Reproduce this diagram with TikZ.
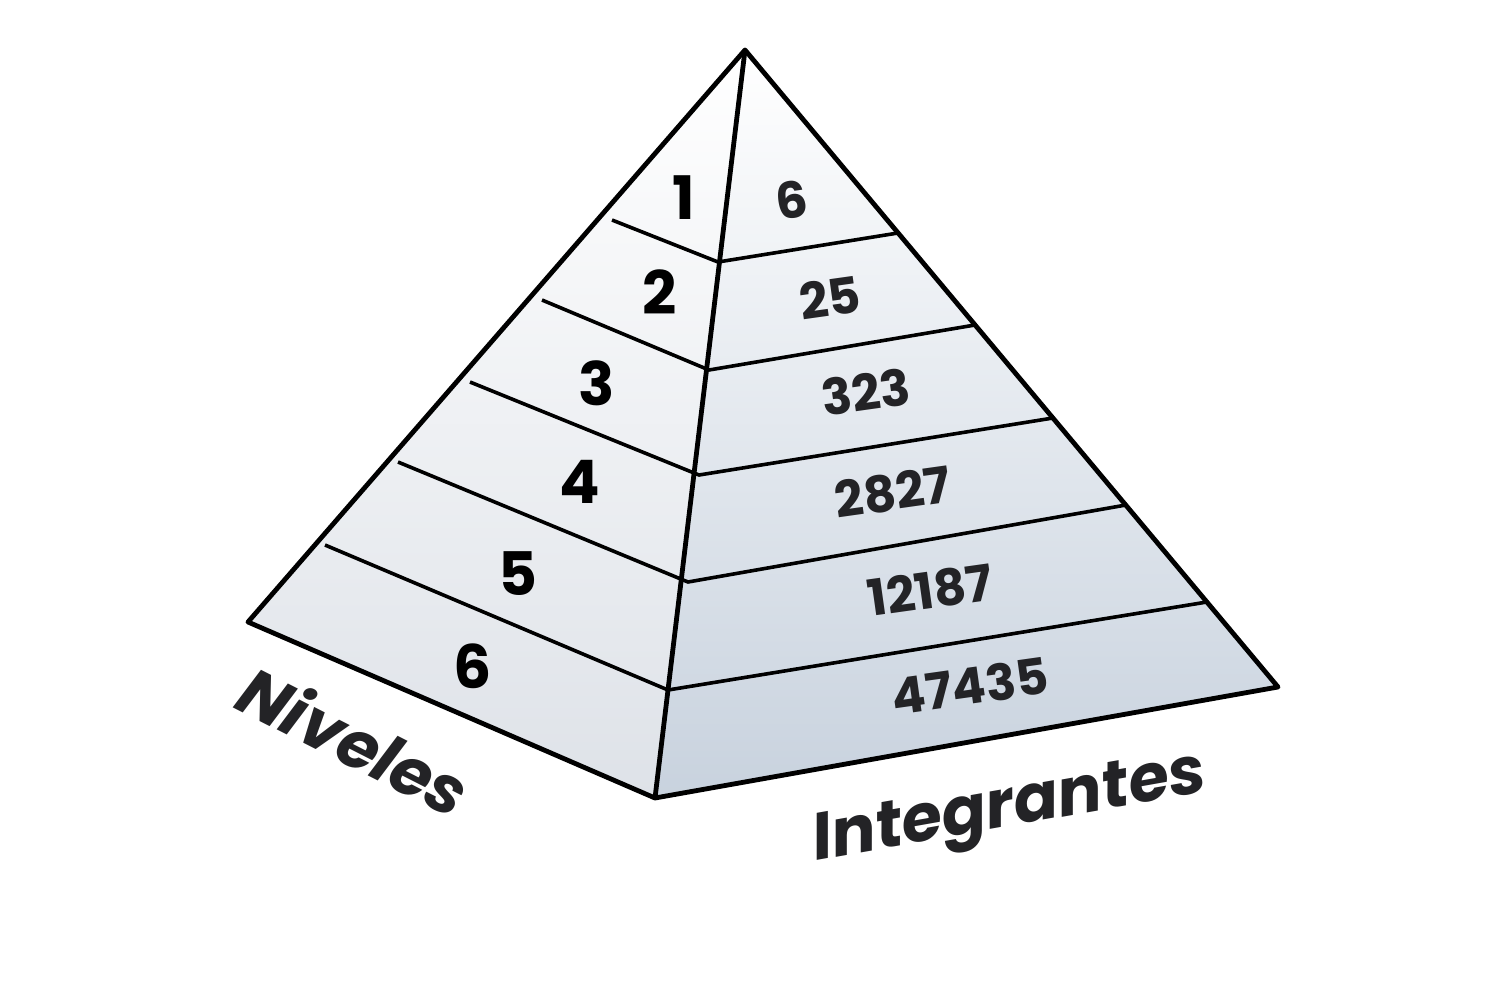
\documentclass[tikz,border=0pt]{standalone}
\usepackage{fontspec}
\setmainfont{Poppins}
\definecolor{faceL}{RGB}{222,226,232}
\definecolor{faceR}{RGB}{200,210,222}
\definecolor{txt}{RGB}{35,35,38}
\begin{document}
\begin{tikzpicture}[x=0.5pt,y=-0.5pt,
  edge/.style={line width=2.4pt,line join=round},
  band/.style={line width=1.8pt},
  lnum/.style={font=\fontsize{30}{30}\selectfont\bfseries,text=black},
  rnum/.style={font=\fontsize{25}{25}\selectfont\bfseries,text=txt,rotate=8},
  axis/.style={font=\fontsize{33}{33}\selectfont\bfseries\itshape,text=txt}]
  \useasboundingbox (0,0) rectangle (1500,996);

  % corners
  \coordinate (apex) at (745,50);
  \coordinate (left) at (248,622);
  \coordinate (front) at (655,798);
  \coordinate (right) at (1278,687);

  % faces
  \shade[top color=white,bottom color=faceL] (apex) -- (left) -- (front) -- cycle;
  \shade[top color=white,bottom color=faceR] (apex) -- (front) -- (right) -- cycle;

  % bands
  \coordinate (l1) at (612,220); \coordinate (f1) at (718,262); \coordinate (r1) at (898,233);
  \coordinate (l2) at (542,300); \coordinate (f2) at (709,370); \coordinate (r2) at (975,325);
  \coordinate (l3) at (470,382); \coordinate (f3) at (699,475); \coordinate (r3) at (1053,418);
  \coordinate (l4) at (398,462); \coordinate (f4) at (688,582); \coordinate (r4) at (1126,505);
  \coordinate (l5) at (325,545); \coordinate (f5) at (668,690); \coordinate (r5) at (1207,602);
  \foreach \i in {1,...,5}{
    \draw[band] (l\i) -- (f\i) -- (r\i);
  }

  % outline
  \draw[edge] (apex) -- (left) -- (front) -- (right) -- cycle;
  \draw[edge] (apex) -- (front);

  % levels
  \node[lnum] (n1) at (684,198) {1};
  \node[lnum] (n2) at (660,292) {2};
  \node[lnum] (n3) at (597,383) {3};
  \node[lnum] (n4) at (580,482) {4};
  \node[lnum] (n5) at (518,574) {5};
  \node[lnum] (n6) at (473,666) {6};

  % members
  \node[rnum] (m1) at (792,200) {6};
  \node[rnum] (m2) at (830,298) {25};
  \node[rnum] (m3) at (866,392) {323};
  \node[rnum] (m4) at (893,492) {2827};
  \node[rnum] (m5) at (930,590) {12187};
  \node[rnum] (m6) at (970,686) {47435};

  % axis labels
  \node[axis,rotate=-27] (niv) at (355,740) {Niveles};
  \node[axis,rotate=10] (int) at (1010,812) {Integrantes};
\end{tikzpicture}
\end{document}
